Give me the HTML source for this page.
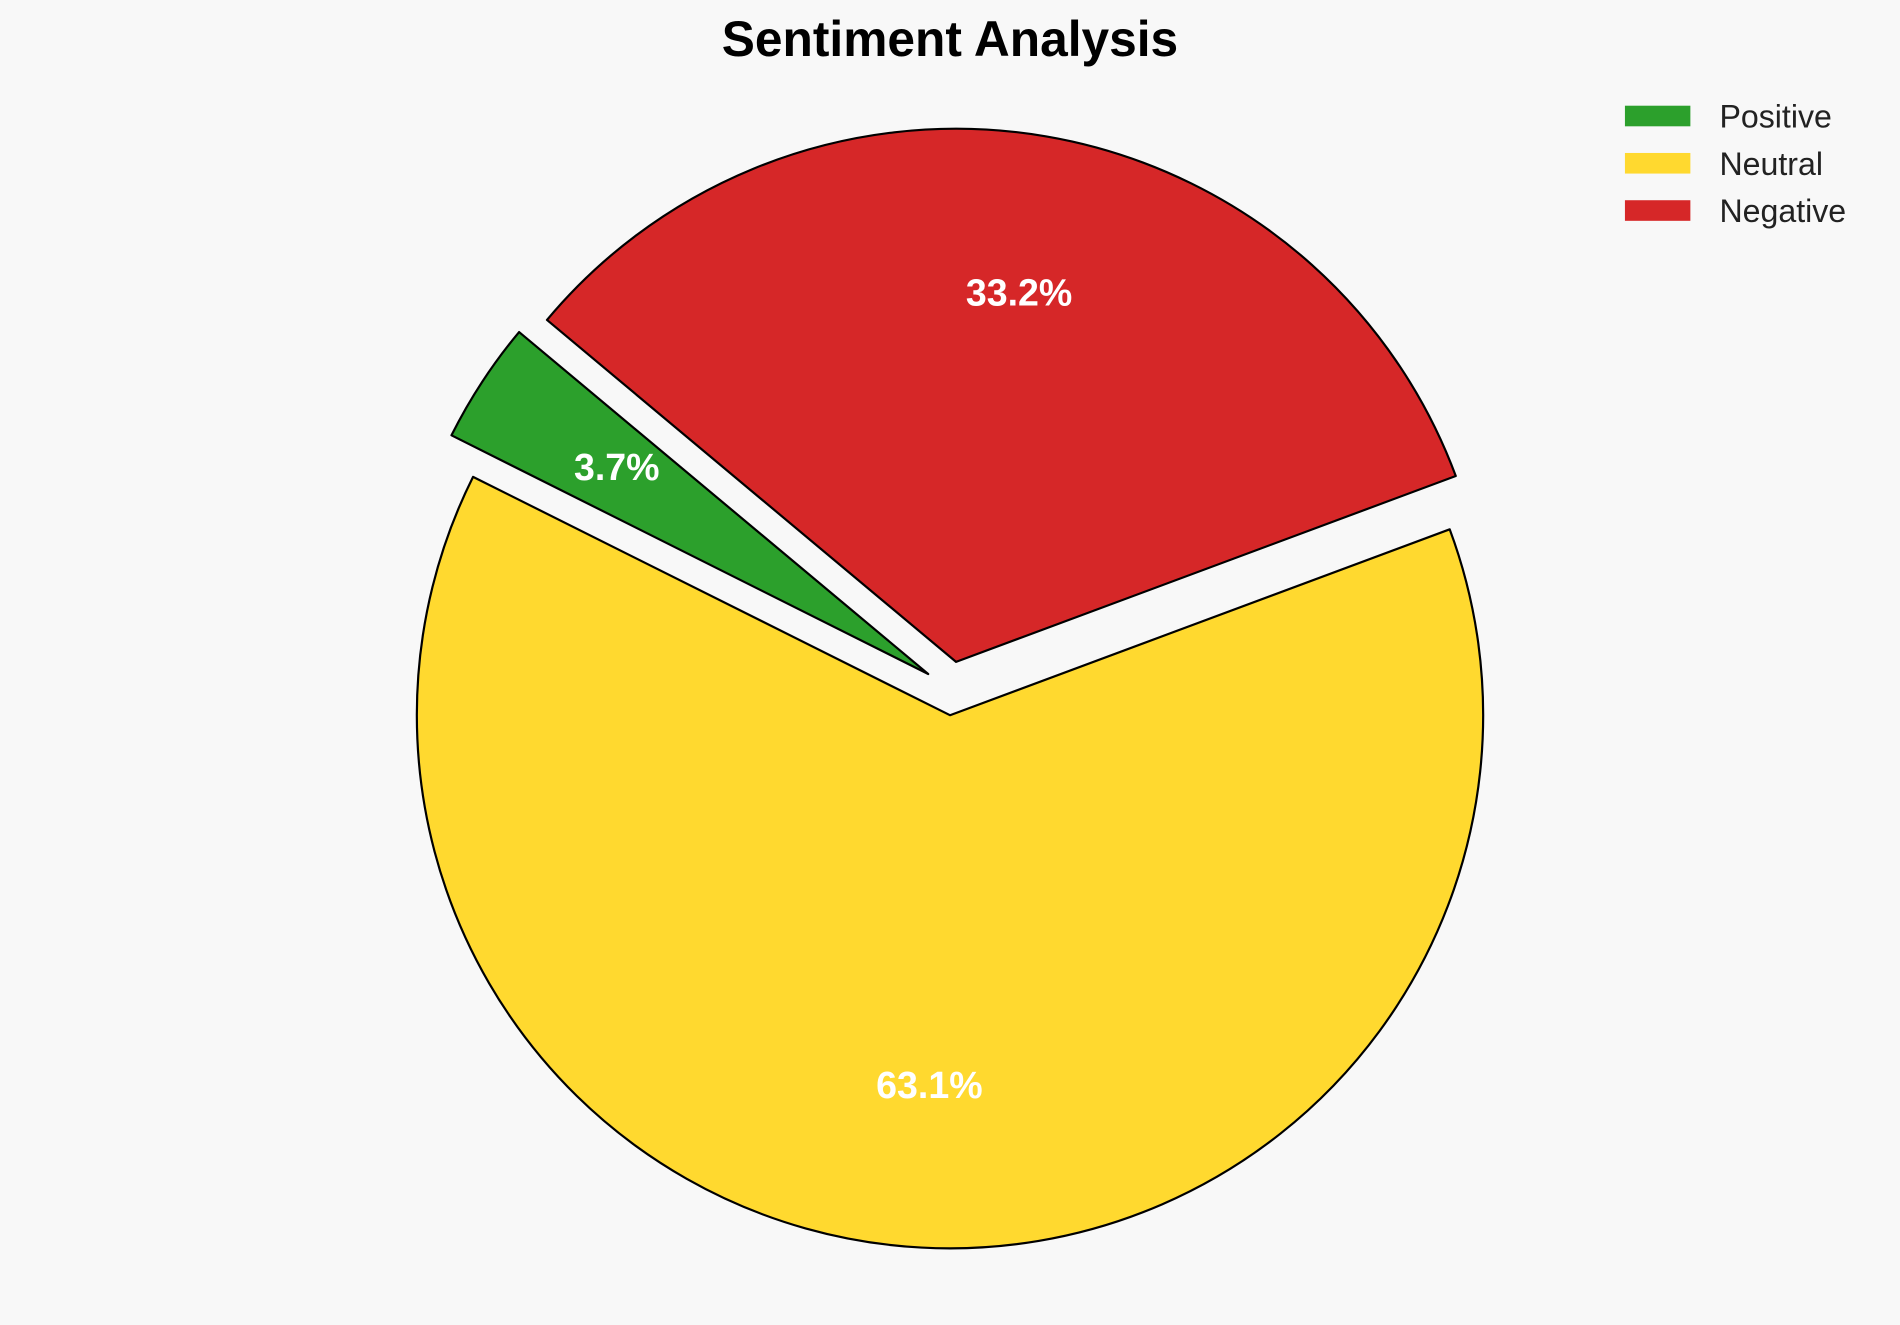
<!DOCTYPE html>
<html><head><meta charset="utf-8"><style>
html,body{margin:0;padding:0;background:#f8f8f8;}
svg{display:block;}
</style></head><body>
<svg width="1900" height="1325" viewBox="0 0 1568 1093" xmlns="http://www.w3.org/2000/svg">
<rect width="1568" height="1093" fill="#f8f8f8"/>
<g stroke="#000" stroke-width="1.8" stroke-linejoin="round">
<path d="M784,590 L1196.4,436.6 A440,440 0 1 1 390.4,393.3 Z" fill="#ffd92f"/>
<path d="M789,546 L451.4,263.8 A440,440 0 0 1 1201.4,392.6 Z" fill="#d62728"/>
<path d="M766,556 L372.6,359 A440,440 0 0 1 428.4,273.8 Z" fill="#2ca02c"/>
</g>
<g font-family="Liberation Sans, Arial, sans-serif" font-weight="bold" fill="#fff" font-size="31" text-anchor="middle">
<text x="509" y="396">3.7%</text>
<text x="841" y="252">33.2%</text>
<text x="767" y="906">63.1%</text>
</g>
<text x="784" y="46" font-family="Liberation Sans, Arial, sans-serif" font-weight="bold" font-size="41" text-anchor="middle" fill="#000">Sentiment Analysis</text>
<g font-family="Liberation Sans, Arial, sans-serif" font-size="26.5" fill="#222">
<rect x="1341" y="87" width="54" height="17" fill="#2ca02c"/>
<text x="1419" y="105">Positive</text>
<rect x="1341" y="126" width="54" height="17" fill="#ffd92f"/>
<text x="1419" y="144">Neutral</text>
<rect x="1341" y="165" width="54" height="17" fill="#d62728"/>
<text x="1419" y="183">Negative</text>
</g>
</svg>
</body></html>
